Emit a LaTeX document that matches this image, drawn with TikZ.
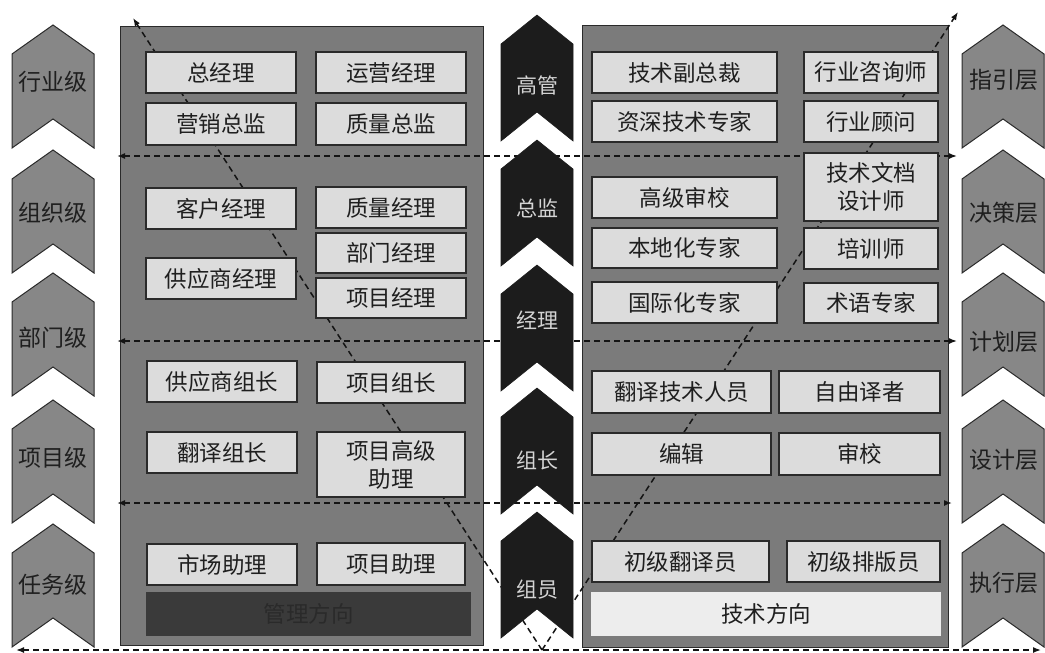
\documentclass[tikz,border=0pt]{standalone}
\usepackage{fontspec}
\setmainfont{Noto Sans CJK SC}
\usetikzlibrary{arrows.meta}
\definecolor{panelgray}{HTML}{7B7B7B}
\definecolor{chevgray}{HTML}{878787}
\definecolor{boxgray}{HTML}{DCDCDC}
\definecolor{darkbox}{HTML}{3A3A3A}
\definecolor{mgmttext}{HTML}{2A2A2A}
\definecolor{midblack}{HTML}{1C1C1C}
\definecolor{edgecol}{HTML}{2A2A2A}
\definecolor{lighttext}{HTML}{D4D4D4}
\definecolor{techfill}{HTML}{EDEDED}
\tikzset{
  panel/.style={draw=edgecol, line width=1pt, fill=panelgray},
  sidechev/.style={draw=edgecol, line width=1pt, fill=chevgray},
  midchev/.style={draw=midblack, line width=0.6pt, fill=midblack},
  sidelabel/.style={inner sep=0pt, text=black!88, font=\fontsize{23}{26}\selectfont},
  midlabel/.style={inner sep=0pt, text=lighttext, font=\fontsize{21}{24}\selectfont},
  role/.style={draw=edgecol, line width=1.4pt, fill=boxgray, inner sep=0pt, align=center,
    text=black!88, font=\fontsize{22.5}{28}\selectfont},
  darkrole/.style={draw=darkbox, line width=1.4pt, fill=darkbox, inner sep=0pt, align=center,
    text=mgmttext, font=\fontsize{22.5}{28}\selectfont},
  lightrole/.style={draw=techfill, line width=1.4pt, fill=techfill, inner sep=0pt, align=center,
    text=black!88, font=\fontsize{22.5}{28}\selectfont},
  flow/.style={draw=black!92, line width=1.5pt, dash pattern=on 6pt off 4pt},
  twoway/.style={flow, {Latex[length=8pt,width=6pt]}-{Latex[length=8pt,width=6pt]}},
  oneway/.style={flow, -{Latex[length=8pt,width=6pt]}},
}
\newcommand\mychevron[5]{% cx, top, halfwidth, height, style
  \path[#5] (#1,#2) -- ({#1+#3},{#2+29}) -- ({#1+#3},{#2+#4}) -- (#1,{#2+#4-29})
    -- ({#1-#3},{#2+#4}) -- ({#1-#3},{#2+29}) -- cycle;}
\newcommand\rolebox[7][role]{% style, name, x1, y1, x2, y2, text
  \node[#1, minimum width={#5-#3}, minimum height={#6-#4}] (#2)
    at ({(#3+#5)/2},{(#4+#6)/2}) {#7};}
\begin{document}
\begin{tikzpicture}[x=1pt,y=-1pt]
\useasboundingbox (0,0) rectangle (1045,653);

% side chevrons
\foreach \t in {25,150,273,400,524} {
  \mychevron{53}{\t}{41}{123}{sidechev}
  \mychevron{1003}{\t}{41}{123}{sidechev}
}
\node[sidelabel] (L1) at (53,82) {行业级};
\node[sidelabel] (L2) at (53,213) {组织级};
\node[sidelabel] (L3) at (53,338) {部门级};
\node[sidelabel] (L4) at (53,458) {项目级};
\node[sidelabel] (L5) at (53,585) {任务级};
\node[sidelabel] (R1) at (1004,80) {指引层};
\node[sidelabel] (R2) at (1004,213) {决策层};
\node[sidelabel] (R3) at (1004,342) {计划层};
\node[sidelabel] (R4) at (1004,460) {设计层};
\node[sidelabel] (R5) at (1004,583) {执行层};

% panels
\path[panel] (120,26) rectangle (483,645);
\path[panel] (582,25) rectangle (948,647);

% dashed connectors
\coordinate (h1l) at (117,156); \coordinate (h1r) at (957,156);
\coordinate (h2l) at (117,341); \coordinate (h2r) at (957,341);
\coordinate (h3l) at (117,503); \coordinate (h3r) at (952,503);
\coordinate (bl) at (16,650); \coordinate (br) at (1041,650);
\coordinate (vtx) at (542,650);
\coordinate (tl) at (133,18); \coordinate (tr) at (958,12);
\draw[twoway] (h1l) -- (h1r);
\draw[twoway] (h2l) -- (h2r);
\draw[twoway] (h3l) -- (h3r);
\draw[twoway] (bl) -- (br);
\draw[oneway] (vtx) -- (tl);
\draw[oneway] (vtx) -- (tr);

% middle chevrons
\foreach \t in {15,140,265,388,512} {
  \mychevron{537}{\t}{36}{126}{midchev}
}
\node[midlabel] (M1) at (537,85) {高管};
\node[midlabel] (M2) at (537,208) {总监};
\node[midlabel] (M3) at (537,320) {经理};
\node[midlabel] (M4) at (537,460) {组长};
\node[midlabel] (M5) at (537,590) {组员};

% left panel roles
\rolebox{gm}{146}{52}{296}{93}{总经理}
\rolebox{ops}{316}{52}{466}{93}{运营经理}
\rolebox{mkt}{146}{103}{296}{145}{营销总监}
\rolebox{qd}{316}{103}{466}{145}{质量总监}
\rolebox{cm}{146}{188}{296}{229}{客户经理}
\rolebox{qm}{316}{187}{466}{228}{质量经理}
\rolebox{dm}{316}{233}{466}{273}{部门经理}
\rolebox{pm}{316}{278}{466}{318}{项目经理}
\rolebox{sm}{146}{258}{296}{299}{供应商经理}
\rolebox{sl}{147}{361}{297}{402}{供应商组长}
\rolebox{pl}{317}{362}{465}{403}{项目组长}
\rolebox{tl}{147}{432}{297}{473}{翻译组长}
\rolebox{psa}{317}{432}{465}{497}{项目高级\\助理}
\rolebox{ma}{147}{544}{297}{585}{市场助理}
\rolebox{pa}{317}{543}{465}{585}{项目助理}
\rolebox[darkrole]{mgmt}{147}{593}{470}{635}{管理方向}

% right panel roles
\rolebox{tvp}{592}{52}{777}{93}{技术副总裁}
\rolebox{ic}{804}{52}{938}{93}{行业咨询师}
\rolebox{sse}{592}{101}{777}{142}{资深技术专家}
\rolebox{ia}{804}{101}{938}{142}{行业顾问}
\rolebox{tdd}{804}{153}{938}{221}{技术文档\\设计师}
\rolebox{sr}{592}{177}{777}{218}{高级审校}
\rolebox{le}{592}{228}{777}{268}{本地化专家}
\rolebox{trn}{804}{228}{938}{269}{培训师}
\rolebox{ie}{592}{282}{777}{323}{国际化专家}
\rolebox{te}{804}{283}{938}{323}{术语专家}
\rolebox{tt}{592}{371}{771}{413}{翻译技术人员}
\rolebox{ft}{779}{371}{940}{413}{自由译者}
\rolebox{ed}{592}{433}{771}{475}{编辑}
\rolebox{pr}{779}{433}{940}{475}{审校}
\rolebox{jt}{592}{541}{769}{582}{初级翻译员}
\rolebox{jl}{787}{541}{940}{582}{初级排版员}
\rolebox[lightrole]{tech}{592}{593}{940}{635}{技术方向}
\end{tikzpicture}
\end{document}
